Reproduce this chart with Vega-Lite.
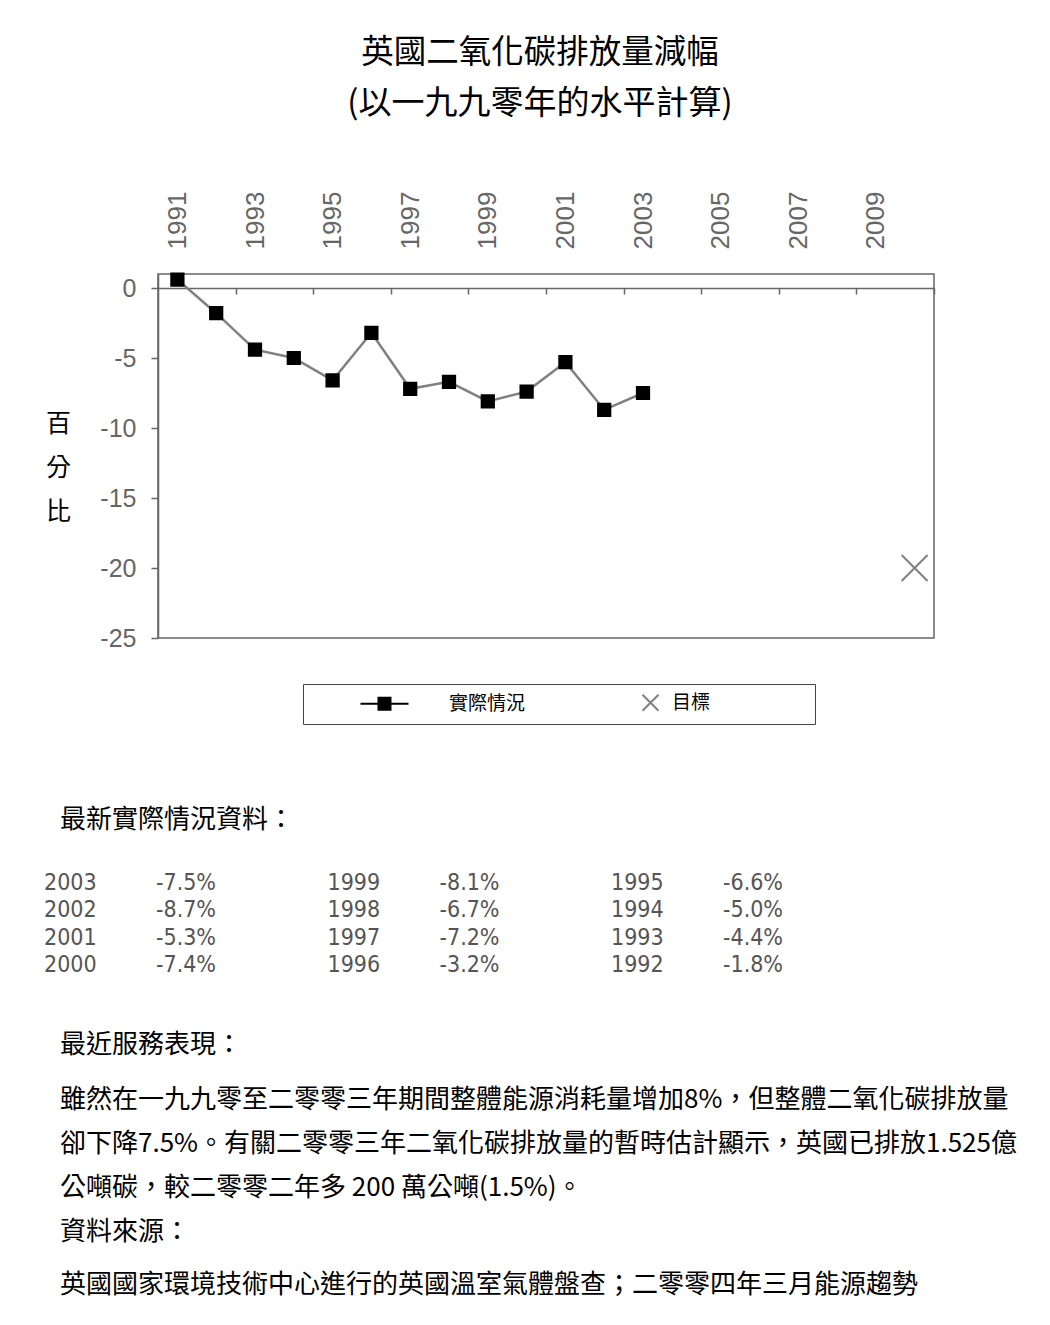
{
  "$schema": "https://vega.github.io/schema/vega-lite/v6.json",
  "background": "white",
  "padding": {"left": 44, "top": 35, "right": 5, "bottom": 5},
  "config": {
    "view": {"stroke": null},
    "font": "Noto Sans CJK TC",
    "title": {"font": "Noto Sans CJK TC", "subtitleFont": "Noto Sans CJK TC", "fontWeight": "normal", "color": "#000", "subtitleColor": "#000"},
    "legend": {
      "orient": "none",
      "legendX": 145,
      "legendY": 410,
      "direction": "horizontal",
      "columns": 2,
      "padding": 9,
      "strokeColor": "#444",
      "fillColor": "#fff",
      "labelFont": "Noto Sans CJK TC",
      "labelFontSize": 19,
      "labelColor": "#000",
      "symbolSize": 256,
      "symbolStrokeWidth": 2,
      "symbolFillColor": "#000",
      "labelOffset": 118,
      "columnPadding": 6
    }
  },
  "datasets": {
    "emissions": [
      {"year": 1991, "change": 0.6, "series": "實際情況"},
      {"year": 1992, "change": -1.8, "series": "實際情況"},
      {"year": 1993, "change": -4.4, "series": "實際情況"},
      {"year": 1994, "change": -5.0, "series": "實際情況"},
      {"year": 1995, "change": -6.6, "series": "實際情況"},
      {"year": 1996, "change": -3.2, "series": "實際情況"},
      {"year": 1997, "change": -7.2, "series": "實際情況"},
      {"year": 1998, "change": -6.7, "series": "實際情況"},
      {"year": 1999, "change": -8.1, "series": "實際情況"},
      {"year": 2000, "change": -7.4, "series": "實際情況"},
      {"year": 2001, "change": -5.3, "series": "實際情況"},
      {"year": 2002, "change": -8.7, "series": "實際情況"},
      {"year": 2003, "change": -7.5, "series": "實際情況"},
      {"year": 2010, "change": -20, "series": "目標"}
    ],
    "latest": [
      {"block": 1, "row": 1, "year": "2003", "change": "-7.5%"},
      {"block": 1, "row": 2, "year": "2002", "change": "-8.7%"},
      {"block": 1, "row": 3, "year": "2001", "change": "-5.3%"},
      {"block": 1, "row": 4, "year": "2000", "change": "-7.4%"},
      {"block": 2, "row": 1, "year": "1999", "change": "-8.1%"},
      {"block": 2, "row": 2, "year": "1998", "change": "-6.7%"},
      {"block": 2, "row": 3, "year": "1997", "change": "-7.2%"},
      {"block": 2, "row": 4, "year": "1996", "change": "-3.2%"},
      {"block": 3, "row": 1, "year": "1995", "change": "-6.6%"},
      {"block": 3, "row": 2, "year": "1994", "change": "-5.0%"},
      {"block": 3, "row": 3, "year": "1993", "change": "-4.4%"},
      {"block": 3, "row": 4, "year": "1992", "change": "-1.8%"}
    ]
  },
  "spacing": 155,
  "vconcat": [
    {
      "width": 776,
      "height": 364,
      "view": {"stroke": "#666", "strokeWidth": 1.5},
      "title": {
        "text": "英國二氧化碳排放量減幅",
        "subtitle": "(以一九九零年的水平計算)",
        "anchor": "middle",
        "frame": "group",
        "fontSize": 32.5,
        "subtitleFontSize": 33,
        "subtitlePadding": 19,
        "offset": 70,
        "dx": -6
      },
      "data": {"name": "emissions"},
      "encoding": {
        "y": {
          "field": "change",
          "type": "quantitative",
          "scale": {"domain": [-25, 1], "nice": false, "zero": false},
          "axis": {
            "values": [0, -5, -10, -15, -20, -25],
            "labelExpr": "'' + datum.value",
            "labelFont": "Liberation Sans",
            "labelFontSize": 25,
            "labelColor": "#666",
            "labelPadding": 15,
            "tickColor": "#666",
            "tickSize": 7,
            "tickWidth": 1.5,
            "domainColor": "#666",
            "domainWidth": 1.5,
            "grid": false,
            "title": ["百", "分", "比"],
            "titleAngle": 0,
            "titleAlign": "center",
            "titleBaseline": "middle",
            "titleX": -100,
            "titleY": 149,
            "titleFont": "Noto Sans CJK TC",
            "titleFontSize": 25,
            "titleFontWeight": "normal",
            "titleLineHeight": 44,
            "titleColor": "#000"
          }
        }
      },
      "layer": [
        {
          "transform": [{"filter": "datum.series === '實際情況'"}],
          "mark": {"type": "line", "color": "#808080", "strokeWidth": 2.5},
          "encoding": {
            "x": {
              "field": "year",
              "type": "quantitative",
              "scale": {"domain": [1990.5, 2010.5], "nice": false, "zero": false},
              "axis": {
                "orient": "top",
                "values": [1991, 1993, 1995, 1997, 1999, 2001, 2003, 2005, 2007, 2009],
                "format": "d",
                "labelAngle": 270,
                "labelAlign": "left",
                "labelBaseline": "middle",
                "labelPadding": 25,
                "labelFont": "Liberation Sans",
                "labelFontSize": 26,
                "labelColor": "#666",
                "labelFlush": false,
                "labelOverlap": false,
                "ticks": false,
                "tickSize": 0,
                "domain": false,
                "grid": false,
                "title": null
              }
            }
          }
        },
        {
          "transform": [{"filter": "datum.series === '實際情況'"}],
          "mark": {"type": "point", "shape": "square", "fill": "#000", "strokeWidth": 2, "opacity": 1, "size": 150},
          "encoding": {
            "x": {
              "field": "year",
              "type": "quantitative",
              "scale": {"domain": [1990.5, 2010.5], "nice": false, "zero": false},
              "axis": {
                "orient": "bottom",
                "offset": -350,
                "values": [1992.5, 1994.5, 1996.5, 1998.5, 2000.5, 2002.5, 2004.5, 2006.5, 2008.5, 2010.5],
                "labels": false,
                "ticks": true,
                "tickSize": 6,
                "tickColor": "#666",
                "tickWidth": 1.5,
                "domain": true,
                "domainColor": "#666",
                "domainWidth": 1.5,
                "grid": false,
                "title": null
              }
            },
            "stroke": {
              "field": "series",
              "type": "nominal",
              "scale": {"domain": ["實際情況", "目標"], "range": ["#000000", "#808080"]},
              "legend": {
                "title": null,
                "symbolType": {"expr": "datum.value === '實際情況' ? 'M-1,0M4.875,0H10.875M7.125,-0.75H8.625V0.75H7.125Z' : 'M-1,0M12.25,-1L14.25,1M12.25,1L14.25,-1'"},
                "labelExpr": "datum.label === '目標' ? datum.label + '\u3000\u3000\u3000\u3000\u3000\u200b' : datum.label",
                "encode": {
                  "symbols": {
                    "fill": {"value": "#000"}
                  }
                }
              }
            }
          }
        },
        {
          "transform": [{"filter": "datum.series === '目標'"}],
          "mark": {"type": "point", "shape": "M-2.12,-2.12L2.12,2.12M-2.12,2.12L2.12,-2.12", "fill": "transparent", "strokeWidth": 2, "opacity": 1, "size": 150},
          "encoding": {
            "x": {
              "field": "year",
              "type": "quantitative",
              "scale": {"domain": [1990.5, 2010.5], "nice": false, "zero": false},
              "axis": null
            },
            "stroke": {
              "field": "series",
              "type": "nominal",
              "scale": {"domain": ["實際情況", "目標"], "range": ["#000000", "#808080"]},
              "legend": {
                "title": null,
                "symbolType": {"expr": "datum.value === '實際情況' ? 'M-1,0M4.875,0H10.875M7.125,-0.75H8.625V0.75H7.125Z' : 'M-1,0M12.25,-1L14.25,1M12.25,1L14.25,-1'"},
                "labelExpr": "datum.label === '目標' ? datum.label + '\u3000\u3000\u3000\u3000\u3000\u200b' : datum.label",
                "encode": {
                  "symbols": {
                    "fill": {"value": "#000"}
                  }
                }
              }
            }
          }
        }
      ],
      "resolve": {"axis": {"x": "independent"}}
    },
    {
      "spacing": 55,
      "vconcat": [
        {
          "width": 567,
          "height": 82,
          "title": {"text": "最新實際情況資料：", "anchor": "start", "dx": 16, "fontSize": 26, "offset": 39},
          "data": {"name": "latest"},
          "encoding": {
            "x": {"field": "block", "type": "ordinal", "scale": {"type": "point", "padding": 0, "range": [-114, 453]}, "axis": null},
            "y": {"field": "row", "type": "ordinal", "scale": {"type": "point", "padding": 0}, "axis": null}
          },
          "layer": [
            {
              "mark": {"type": "text", "align": "left", "baseline": "middle", "font": "Liberation Sans Narrow, DejaVu Sans Condensed, Liberation Sans", "fontSize": 23, "color": "#555"},
              "encoding": {"text": {"field": "year"}}
            },
            {
              "mark": {"type": "text", "align": "left", "baseline": "middle", "font": "Liberation Sans Narrow, DejaVu Sans Condensed, Liberation Sans", "fontSize": 23, "color": "#555", "dx": 112},
              "encoding": {"text": {"field": "change"}}
            }
          ]
        },
        {
          "spacing": 17,
          "vconcat": [
            {
              "width": 1,
              "height": 1,
              "title": {
                "text": "最近服務表現：",
                "subtitle": [
                  "雖然在一九九零至二零零三年期間整體能源消耗量增加8%，但整體二氧化碳排放量",
                  "卻下降7.5%。有關二零零三年二氧化碳排放量的暫時估計顯示，英國已排放1.525億",
                  "公噸碳，較二零零二年多 200 萬公噸(1.5%)。"
                ],
                "anchor": "start",
                "dx": -98,
                "fontSize": 26,
                "subtitleFontSize": 26,
                "subtitleLineHeight": 44,
                "subtitlePadding": 29,
                "offset": 0
              },
              "data": {"values": []},
              "mark": "text"
            },
            {
              "width": 1,
              "height": 1,
              "title": {
                "text": "資料來源：",
                "subtitle": "英國國家環境技術中心進行的英國溫室氣體盤查；二零零四年三月能源趨勢",
                "anchor": "start",
                "dx": -98,
                "fontSize": 26,
                "subtitleFontSize": 26,
                "subtitlePadding": 27,
                "offset": 0
              },
              "data": {"values": []},
              "mark": "text"
            }
          ]
        }
      ]
    }
  ]
}
